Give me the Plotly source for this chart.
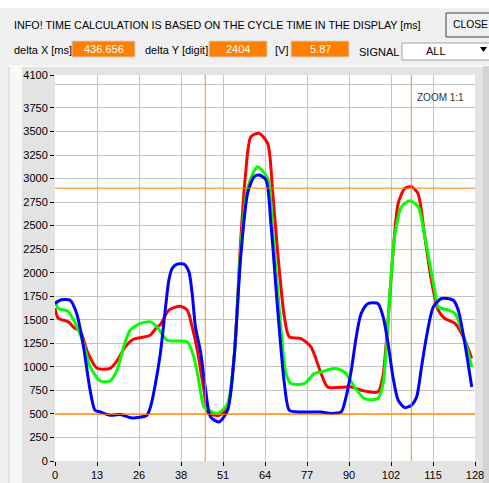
import plotly.graph_objects as go

# ---------------- data ----------------
red_x = [0, 1, 4, 6, 7.6, 10, 12.8, 16.8, 19, 21.4, 23.9, 26, 29, 31.1, 32, 34.7, 38.2, 40.3, 41.8, 43.4,
         45.4, 46.8, 50, 52.5, 54.6, 56.6, 58.1, 59.7, 62.2, 64.8, 66.3, 67.8, 69.9, 71.4, 75, 78, 81.1,
         83.1, 90.3, 93.3, 98.4, 99.9, 101.5, 103, 104.6, 106.6, 108.6, 110.6, 112.7, 114.7, 116.8,
         118.8, 121.9, 124.9, 127]
red_y = [1623, 1517, 1480, 1410, 1387, 1150, 985, 985, 1070, 1212, 1293, 1310, 1336, 1424, 1443, 1602,
         1644, 1602, 1424, 1170, 751, 507, 486, 560, 1106, 2346, 3058, 3444, 3480, 3374, 2877, 2240,
         1531, 1318, 1301, 1212, 929, 787, 787, 752, 733, 893, 1496, 2205, 2736, 2896, 2913, 2842,
         2381, 1921, 1602, 1514, 1461, 1283, 1088]

green_x = [0, 1, 4, 6.6, 8.7, 10.7, 13.8, 16.8, 18.9, 20.9, 22.9, 26, 29.1, 31.1, 34.2, 40.3, 42.3,
           43.4, 45.4, 46.4, 49.5, 52.5, 54.6, 56.6, 58.7, 61.7, 64.8, 66.3, 68.3, 70.4, 71.9, 76, 79,
           81.1, 85.2, 88.2, 91.3, 94.3, 98.4, 100, 101.5, 103.5, 105.6, 108.1, 110.7, 112.7, 115.7,
           116.8, 119.9, 121.9, 124.9, 127]
green_y = [1700, 1620, 1590, 1430, 1248, 999, 850, 850, 964, 1212, 1389, 1461, 1478, 1424, 1283, 1265,
           1106, 929, 574, 550, 504, 600, 1106, 2250, 2900, 3125, 3002, 2452, 1637, 929, 823, 823, 929,
           946, 982, 946, 787, 663, 663, 823, 1496, 2381, 2700, 2764, 2700, 2381, 1815, 1637, 1602,
           1567, 1283, 999]

blue_x = [0, 1.5, 4.6, 6.6, 8.7, 10.7, 12.2, 13.8, 16.8, 19.9, 23.5, 28, 29.1, 30.5, 32.1, 33.7, 34.7,
          35.7, 37.2, 39.3, 40.8, 41.8, 42.8, 44.4, 45.9, 47.4, 50, 52.6, 54.6, 56.6, 58.7, 60.7, 62.2,
          64.3, 65.8, 67.8, 69.9, 71.4, 74, 81.1, 84, 87.2, 88.7, 90.3, 91.8, 93.3, 95.4, 98.4, 100,
          101.5, 103, 104.6, 106.6, 108.6, 110.2, 111.7, 113.2, 115.3, 117.8, 121.4, 122.9, 124.9, 127]
blue_y = [1673, 1708, 1708, 1567, 1212, 752, 539, 521, 486, 493, 457, 486, 574, 800, 1141, 1637, 1921,
          2045, 2091, 2091, 2010, 1779, 1424, 1150, 752, 468, 415, 539, 1106, 2169, 2842, 3019, 3037,
          2984, 2523, 1637, 823, 539, 521, 521, 505, 521, 680, 964, 1318, 1567, 1673, 1673, 1531, 1248,
          893, 645, 567, 592, 680, 999, 1318, 1637, 1726, 1708, 1602, 1248, 787]

cursor_x = [45.8, 108.6]
cursor_y = [2898, 496]

x_tick_vals = [0, 12.8, 25.6, 38.4, 51.2, 64, 76.8, 89.6, 102.4, 115.2, 128]
x_tick_text = ["0", "13", "26", "38", "51", "64", "77", "90", "102", "115", "128"]
y_tick_vals = [0, 250, 500, 750, 1000, 1250, 1500, 1750, 2000, 2250, 2500, 2750, 3000, 3250, 3500, 3750, 4100]
y_tick_text = [str(v) for v in y_tick_vals]

info_text = "INFO! TIME CALCULATION IS BASED ON THE CYCLE TIME IN THE DISPLAY [ms]"
delta_x_label, delta_x_value = "delta X [ms]", "436.656"
delta_y_label, delta_y_value = "delta Y [digit]", "2404"
volt_label, volt_value = "[V]", "5.87"
signal_label, signal_value = "SIGNAL", "ALL"
zoom_text = "ZOOM 1:1"

# ---------------- layout geometry (pixels) ----------------
W, H = 489, 483
L, R, T, B = 55, 14, 75, 22
PW, PH = W - L - R, H - T - B


def px(x):
    return (x - L) / PW


def py(y):
    return (H - B - y) / PH


FONT = "Liberation Sans, Arial, sans-serif"
ORANGE = "#ff8000"

fig = go.Figure()
for xs, ys, col in [(red_x, red_y, "#ff0000"), (green_x, green_y, "#00ff00"), (blue_x, blue_y, "#0000ff")]:
    fig.add_trace(go.Scatter(x=xs, y=ys, mode="lines",
                             line=dict(color=col, width=3, shape="spline", smoothing=0.7),
                             hoverinfo="skip", showlegend=False))

shapes = []
# background panels
shapes.append(dict(type="rect", xref="paper", yref="paper", x0=px(0), x1=px(W), y0=py(0), y1=py(8),
                   fillcolor="#ffffff", line=dict(width=0), layer="below"))
shapes.append(dict(type="rect", xref="paper", yref="paper", x0=px(8), x1=px(W), y0=py(65), y1=py(H),
                   fillcolor="#e3e3e3", line=dict(width=0), layer="below"))
shapes.append(dict(type="rect", xref="paper", yref="paper", x0=px(10), x1=px(22), y0=py(67), y1=py(H),
                   fillcolor="#f8f8f8", line=dict(width=0), layer="below"))
shapes.append(dict(type="line", xref="paper", yref="paper", x0=px(8), x1=px(W), y0=py(66), y1=py(66),
                   line=dict(color="#f8f8f8", width=2), layer="below"))
shapes.append(dict(type="rect", xref="paper", yref="paper", x0=px(483), x1=px(W), y0=py(66), y1=py(H),
                   fillcolor="#d4d4d4", line=dict(width=0), layer="below"))
shapes.append(dict(type="rect", xref="paper", yref="paper", x0=0, x1=1, y0=0, y1=1,
                   fillcolor="#ffffff", line=dict(width=0), layer="below"))

# header boxes
for x0, x1 in [(72, 135), (209, 267), (291, 349)]:
    shapes.append(dict(type="rect", xref="paper", yref="paper", x0=px(x0), x1=px(x1), y0=py(41), y1=py(57),
                       fillcolor=ORANGE, line=dict(color="#d0d0d0", width=1)))
# CLOSE button
shapes.append(dict(type="rect", xref="paper", yref="paper", x0=px(446), x1=px(495), y0=py(13), y1=py(37),
                   fillcolor="#f0f0f0", line=dict(color="#404040", width=1)))
# dropdown
shapes.append(dict(type="rect", xref="paper", yref="paper", x0=px(402), x1=px(495), y0=py(43), y1=py(60),
                   fillcolor="#ffffff", line=dict(color="#a0a0a0", width=1)))
shapes.append(dict(type="path", xref="paper", yref="paper",
                   path=f"M {px(480)},{py(47)} L {px(487)},{py(47)} L {px(483.5)},{py(52)} Z",
                   fillcolor="#000000", line=dict(width=0)))

# cursors
for cx in cursor_x:
    shapes.append(dict(type="line", xref="x", yref="paper", x0=cx, x1=cx, y0=0, y1=1,
                       line=dict(color="#ff8c1a", width=1)))
for cy in cursor_y:
    shapes.append(dict(type="line", xref="paper", yref="y", x0=0, x1=1, y0=cy, y1=cy,
                       line=dict(color="#ff8000", width=1)))

annotations = []


def txt(s, x, y, size=11, color="#000000", xanchor="left"):
    annotations.append(dict(text=s, xref="paper", yref="paper", x=px(x), y=py(y), xanchor=xanchor,
                            yanchor="middle", showarrow=False, font=dict(family=FONT, size=size, color=color)))


txt(info_text, 12, 25, size=10.75)
txt("CLOSE", 451, 25, size=10.3)
txt(delta_x_label, 12, 50)
txt(delta_x_value, 103.5, 49, color="#ffffff", xanchor="center")
txt(delta_y_label, 143, 50)
txt(delta_y_value, 238, 49, color="#ffffff", xanchor="center")
txt(volt_label, 273, 50)
txt(volt_value, 320, 49, color="#ffffff", xanchor="center")
txt(signal_label, 357, 52)
txt(signal_value, 436, 51, xanchor="center")
txt(zoom_text, 415, 97, size=10, color="#303030")

fig.update_layout(
    width=W, height=H, autosize=False,
    margin=dict(l=L, r=R, t=T, b=B, pad=0, autoexpand=False),
    paper_bgcolor="#f0f0f0", plot_bgcolor="#ffffff",
    shapes=shapes, annotations=annotations,
    font=dict(family=FONT, size=11, color="#000000"),
    xaxis=dict(range=[0, 128], tickvals=x_tick_vals, ticktext=x_tick_text, showgrid=True,
               gridcolor="#c4c4c4", gridwidth=1, zeroline=False, showline=False, automargin=False,
               ticks="outside", ticklen=4, tickcolor="#000000", tickfont=dict(size=11, color="#000000")),
    yaxis=dict(range=[0, 4100], tickvals=y_tick_vals, ticktext=y_tick_text, showgrid=True,
               gridcolor="#c4c4c4", gridwidth=1, zeroline=False, showline=False, automargin=False,
               ticks="outside", ticklen=4, tickcolor="#000000", tickfont=dict(size=11, color="#000000"),
               minor=dict(tickvals=[4000], showgrid=True, gridcolor="#c4c4c4", ticks="")),
)

fig.write_html("out.html", config={"displayModeBar": False},
               post_script="document.body.style.margin='0px';document.body.style.overflow='hidden';")
